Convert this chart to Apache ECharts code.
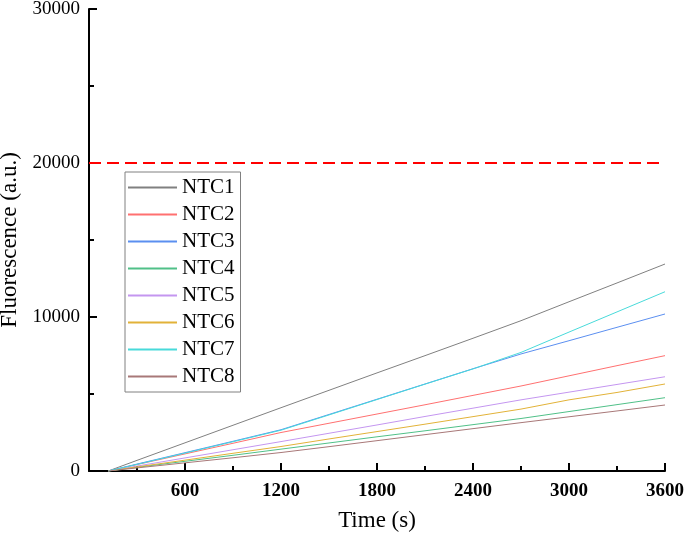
<!DOCTYPE html>
<html>
<head>
<meta charset="utf-8">
<script src="https://cdn.jsdelivr.net/npm/echarts@6/dist/echarts.min.js"></script>
<style>
  html, body { margin: 0; padding: 0; background: #fff; }
  #main { width: 686px; height: 541px; }
</style>
</head>
<body>
<div id="main"></div>
<script>
// time points (s)
const times = [120, 300, 600, 900, 1200, 1500, 1800, 2100, 2400, 2700, 3000, 3300, 3600];

// fluorescence (a.u.) for each sample
const ntc1 = [0, 690, 1830, 2970, 4110, 5240, 6370, 7490, 8620, 9760, 10990, 12210, 13440];
const ntc2 = [0, 420, 1110, 1800, 2500, 3100, 3700, 4300, 4910, 5520, 6180, 6840, 7490];
const ntc3 = [0, 450, 1190, 1930, 2680, 3670, 4660, 5650, 6640, 7600, 8460, 9330, 10195];
const ntc4 = [0, 240, 630, 1020, 1420, 1820, 2220, 2610, 3010, 3410, 3860, 4310, 4760];
const ntc5 = [0, 320, 850, 1380, 1910, 2450, 2990, 3540, 4080, 4620, 5120, 5620, 6120];
const ntc6 = [0, 265, 705, 1150, 1590, 2080, 2560, 3040, 3530, 4020, 4620, 5100, 5650];
const ntc7 = [0, 430, 1160, 1900, 2650, 3640, 4640, 5640, 6630, 7700, 9020, 10330, 11640];
const ntc8 = [0, 200, 530, 860, 1200, 1580, 1970, 2360, 2750, 3140, 3520, 3900, 4285];

const names = ['NTC1', 'NTC2', 'NTC3', 'NTC4', 'NTC5', 'NTC6', 'NTC7', 'NTC8'];
const values = [ntc1, ntc2, ntc3, ntc4, ntc5, ntc6, ntc7, ntc8];
const colors = ['#808080', '#ff7070', '#5b8ff0', '#50c088', '#c496f0', '#e2b238', '#48dada', '#a87878'];

const threshold = 20000;
const xTicks = [0, 600, 1200, 1800, 2400, 3000, 3600];
const yTicks = [0, 10000, 20000, 30000];

const font = '"Liberation Serif", "Times New Roman", serif';

const series = names.map((name, i) => ({
  name: name,
  type: 'line',
  symbol: 'none',
  lineStyle: { width: 1, color: colors[i] },
  itemStyle: { color: colors[i] },
  data: times.map((t, k) => [t, values[i][k]])
}));

// red dashed threshold line
series[0].markLine = {
  silent: true,
  symbol: 'none',
  label: { show: false },
  lineStyle: { color: '#ff0000', width: 2, type: [12, 6] },
  data: [{ yAxis: threshold }]
};

const chart = echarts.init(document.getElementById('main'));
chart.setOption({
  animation: false,
  backgroundColor: '#fff',
  grid: { left: 89, right: 21, top: 9, bottom: 70, outerBoundsMode: 'none' },
  legend: {
    orient: 'vertical',
    left: 125,
    top: 172,
    padding: [5, 6, 5, 3],
    icon: 'rect',
    itemWidth: 49,
    itemHeight: 2,
    itemGap: 6,
    backgroundColor: '#fff',
    borderColor: '#808080',
    borderWidth: 1,
    textStyle: { fontFamily: font, fontSize: 21, lineHeight: 21, color: '#000', padding: [0, 0, 0, 0] },
    data: names
  },
  xAxis: {
    type: 'value',
    min: xTicks[0],
    max: xTicks[xTicks.length - 1],
    interval: 600,
    name: 'Time (s)',
    nameLocation: 'middle',
    nameGap: 38,
    nameTextStyle: { fontFamily: font, fontSize: 23, color: '#000' },
    axisLine: { onZero: false, lineStyle: { color: '#000', width: 2 } },
    axisTick: { inside: true, length: 8, lineStyle: { color: '#000', width: 2 } },
    minorTick: { show: true, splitNumber: 2, length: 5, lineStyle: { color: '#000', width: 2 } },
    splitLine: { show: false },
    axisLabel: {
      margin: 11,
      fontFamily: font,
      fontSize: 19,
      fontWeight: 'bold',
      color: '#000',
      formatter: v => (v === 0 ? '' : String(v))
    }
  },
  yAxis: {
    type: 'value',
    min: yTicks[0],
    max: yTicks[yTicks.length - 1],
    interval: 10000,
    name: 'Fluorescence (a.u.)',
    nameLocation: 'middle',
    nameGap: 56,
    nameTextStyle: { fontFamily: font, fontSize: 23, color: '#000' },
    axisLine: { show: true, onZero: false, lineStyle: { color: '#000', width: 2 } },
    axisTick: { show: true, inside: true, length: 8, lineStyle: { color: '#000', width: 2 } },
    minorTick: { show: true, splitNumber: 2, length: 5, lineStyle: { color: '#000', width: 2 } },
    splitLine: { show: false },
    axisLabel: { margin: 9, fontFamily: font, fontSize: 19, color: '#000', formatter: v => String(v) }
  },
  series: series
});
</script>
</body>
</html>
